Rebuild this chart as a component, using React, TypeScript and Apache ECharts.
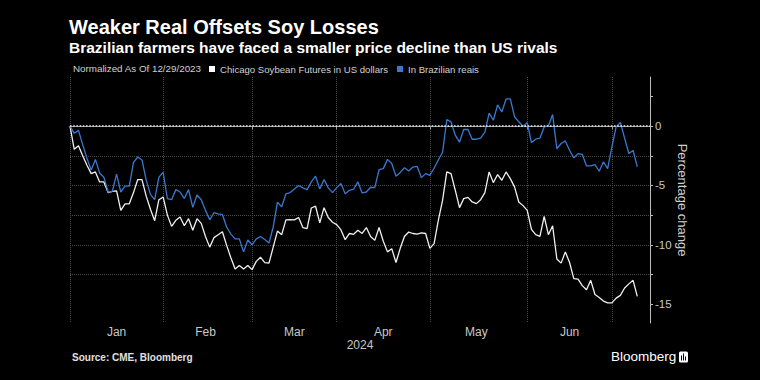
import React, { useEffect, useRef } from "react";
import * as echarts from "echarts";

// ---- data ----
const closedDays: string[] = ["2024-01-01", "2024-01-15", "2024-03-29"];
const monthLabels: string[] = ["Jan", "Feb", "Mar", "Apr", "May", "Jun"];
const yTickValues: number[] = [-15, -12.5, -10, -7.5, -5, -2.5, 0, 2.5];
const yLabelValues: number[] = [-15, -10, -5, 0];

const usdSeries: number[] = [
  0, -1.95, -1.65, -2.5, -3.3, -4.0, -3.86, -4.7, -4.7, -5.6,
  -5.5, -5.46, -7.1, -6.55, -6.55, -5.6, -4.5, -4.5, -5.9, -7.0,
  -7.97, -6.2, -5.97, -7.5, -8.45, -7.94, -7.66, -8.4, -7.8, -8.78,
  -7.8, -8.2, -9.3, -10.2, -9.4, -9.15, -8.9, -10.05, -11.1, -12.05,
  -11.75, -12.05, -11.75, -12.1, -11.4, -11.05, -11.5, -11.55, -10.2, -8.85,
  -9.15, -7.9, -7.88, -7.9, -7.7, -8.55, -8.64, -6.9, -6.75, -8.16,
  -6.87, -7.7, -8.1, -8.3, -8.75, -9.57, -9.05, -9.12, -8.78, -9.05,
  -8.55, -9.3, -9.63, -8.55, -9.7, -10.6, -10.33, -11.5, -10.3, -9.3,
  -8.93, -9.05, -9.1, -9.0, -9.05, -10.3, -9.9, -7.94, -6.25, -3.86,
  -4.0, -5.4, -6.87, -6.11, -6.0, -6.39, -6.53, -6.2, -5.6, -3.86,
  -4.76, -4.08, -4.56, -3.86, -4.42, -5.12, -6.39, -6.7, -7.1, -8.7,
  -9.15, -9.3, -7.6, -9.15, -8.4, -11.2, -11.55, -10.6, -11.5, -12.85,
  -12.9, -13.45, -13.8, -13.0, -14.2, -14.45, -14.75, -14.9, -14.9, -14.5,
  -14.27, -13.65, -13.3, -13.0, -14.35,
];

const brlSeries: number[] = [
  0, -0.6, -0.35, -1.55, -2.7, -3.7, -2.8, -3.95, -4.3, -5.55,
  -5.5, -4.05, -5.55, -5.05, -5.05, -3.05, -2.6, -2.85, -4.55, -5.75,
  -6.2, -4.3, -3.9, -6.1, -6.2, -5.35, -5.55, -6.1, -5.35, -6.85,
  -5.8, -6.2, -7.1, -7.9, -7.3, -7.4, -7.45, -8.5, -9.1, -9.5,
  -9.5, -10.6, -9.6, -10.0, -9.5, -9.3, -9.55, -9.85, -8.5, -6.4,
  -6.8, -5.7, -5.6, -5.3, -5.0, -5.2, -5.35, -4.7, -4.22, -5.3,
  -4.5, -5.2, -5.6, -5.18, -4.84, -5.69, -5.41, -5.3, -4.7, -5.63,
  -5.55, -5.15, -5.18, -3.66, -3.58, -2.8, -3.15, -4.22, -3.9, -3.5,
  -3.77, -3.45, -3.38, -4.34, -4.0, -4.14, -3.55, -2.85, -2.2, 0.56,
  0.37, -0.76, -1.35, -0.28, -0.28, -1.1, -1.1, -1.0, -0.5, 1.1,
  0.5, 1.8, 1.2, 2.3, 2.3, 0.8, 0.37, 0.0, 0.3, -1.38,
  -1.1, -1.0, -0.06, 0.03, 0.98, -1.9, -1.46, -1.24, -2.03, -2.67,
  -2.31, -2.37, -3.35, -3.35, -3.24, -3.8, -3.0, -3.58, -1.75, -0.06,
  0.31, -1.0, -2.3, -2.05, -3.43,
];

function buildTradingDays(): string[] {
  const out: string[] = [];
  const d = new Date(Date.UTC(2023, 11, 29));
  const end = Date.UTC(2024, 6, 12);
  while (d.getTime() <= end) {
    const wd = d.getUTCDay();
    const s = d.toISOString().slice(0, 10);
    if (wd !== 0 && wd !== 6 && closedDays.indexOf(s) < 0) out.push(s);
    d.setUTCDate(d.getUTCDate() + 1);
  }
  return out;
}

const dates = buildTradingDays();

const boundaries: number[] = [0];
for (let i = 1; i < dates.length; i++) {
  const m = dates[i].slice(5, 7);
  const pm = dates[i - 1].slice(5, 7);
  if (m !== pm && pm !== "12") boundaries.push(i);
}
const gridSet = new Set<number>(boundaries);
const labelSet = new Set<number>();
for (let k = 0; k < monthLabels.length && k + 1 < boundaries.length; k++) {
  labelSet.add(Math.floor((boundaries[k] + boundaries[k + 1]) / 2));
}

const FONT = '"Liberation Sans", Arial, sans-serif';

export default function App() {
  const ref = useRef<HTMLDivElement>(null);

  useEffect(() => {
    if (!ref.current) return;
    const chart = echarts.init(ref.current, null, { renderer: "svg" });
    const option: any = {
      animation: false,
      backgroundColor: "#000",
      textStyle: { fontFamily: FONT },
      title: [
        {
          text: "Weaker Real Offsets Soy Losses",
          left: 69,
          top: 17,
          padding: 0,
          textStyle: { color: "#fff", fontSize: 20, fontWeight: "bold", fontFamily: FONT },
        },
        {
          text: "Brazilian farmers have faced a smaller price decline than US rivals",
          left: 69,
          top: 39,
          padding: 0,
          textStyle: { color: "#fff", fontSize: 15.5, fontWeight: "bold", fontFamily: FONT },
        },
        {
          text: "Normalized As Of 12/29/2023",
          left: 73,
          top: 63,
          padding: 0,
          textStyle: { color: "#d0d0d0", fontSize: 9.8, fontWeight: "normal", fontFamily: FONT },
        },
        {
          text: "Source: CME, Bloomberg",
          left: 72,
          top: 352,
          padding: 0,
          textStyle: { color: "#e0e0e0", fontSize: 10, fontWeight: "bold", fontFamily: FONT },
        },
        {
          text: "Bloomberg",
          left: 611,
          top: 349,
          padding: 0,
          textStyle: { color: "#fff", fontSize: 13.5, fontWeight: "normal", fontFamily: FONT },
        },
      ],
      graphic: [
        {
          type: "group",
          left: 679,
          top: 351,
          children: [
            { type: "rect", shape: { x: 0, y: 0, width: 9, height: 11, r: 1.5 }, style: { fill: "#fff" } },
            { type: "line", shape: { x1: 2.5, y1: 4, x2: 2.5, y2: 9 }, style: { stroke: "#000", lineWidth: 1 } },
            { type: "line", shape: { x1: 4.5, y1: 2, x2: 4.5, y2: 9 }, style: { stroke: "#000", lineWidth: 1 } },
            { type: "line", shape: { x1: 6.5, y1: 5, x2: 6.5, y2: 9 }, style: { stroke: "#000", lineWidth: 1 } },
          ],
        },
      ],
      legend: {
        left: 209,
        top: 64,
        padding: 0,
        itemWidth: 6,
        itemHeight: 6,
        itemGap: 9,
        icon: "rect",
        textStyle: { color: "#d0d0d0", fontSize: 9.6, fontFamily: FONT },
        data: ["Chicago Soybean Futures in US dollars", "In Brazilian reais"],
      },
      grid: { left: 70, right: 110, top: 77, bottom: 57 },
      xAxis: {
        type: "category",
        data: dates,
        boundaryGap: false,
        axisLine: { show: true, lineStyle: { color: "#9a9a9a", width: 1 } },
        axisTick: {
          show: true,
          interval: (i: number) => gridSet.has(i),
          length: 3,
          lineStyle: { color: "#9a9a9a" },
        },
        splitLine: {
          show: true,
          interval: (i: number) => gridSet.has(i),
          lineStyle: { type: "dotted", color: "#4a4a4a", width: 1 },
        },
        axisLabel: {
          interval: (i: number) => labelSet.has(i),
          formatter: (v: string) => monthLabels[Number(v.slice(5, 7)) - 1] || "",
          color: "#c8c8c8",
          fontSize: 12,
          margin: 3,
          fontFamily: FONT,
        },
        name: "2024",
        nameLocation: "middle",
        nameGap: 16,
        nameMoveOverlap: false,
        nameTextStyle: { color: "#c8c8c8", fontSize: 12, fontFamily: FONT },
      },
      yAxis: {
        type: "value",
        position: "right",
        min: -16.6,
        max: 4.15,
        axisLine: { show: true, lineStyle: { color: "#bdbdbd", width: 1 } },
        axisTick: {
          show: true,
          customValues: yTickValues,
          length: 3,
          lineStyle: { color: "#bdbdbd" },
        },
        axisLabel: {
          customValues: yLabelValues,
          color: "#c8c8c8",
          fontSize: 11.5,
          margin: 5,
          fontFamily: FONT,
        },
        splitLine: {
          show: true,
          showMinLine: false,
          showMaxLine: false,
          lineStyle: { type: "dotted", color: "#4a4a4a", width: 1 },
        },
        name: "Percentage change",
        nameLocation: "middle",
        nameRotate: -90,
        nameGap: 26,
        nameMoveOverlap: false,
        nameTextStyle: { color: "#d0d0d0", fontSize: 13, fontFamily: FONT },
      },
      series: [
        {
          name: "Chicago Soybean Futures in US dollars",
          type: "line",
          data: usdSeries,
          symbol: "none",
          showSymbol: false,
          itemStyle: { color: "#ffffff" },
          lineStyle: { color: "#f0f0f0", width: 1.3 },
          z: 3,
          markLine: {
            silent: true,
            symbol: ["none", "none"],
            label: { show: false },
            lineStyle: { type: "dotted", color: "#e8e8e8", width: 1.6 },
            data: [{ yAxis: 0 }],
          },
        },
        {
          name: "In Brazilian reais",
          type: "line",
          data: brlSeries,
          symbol: "none",
          showSymbol: false,
          itemStyle: { color: "#3a78d0" },
          lineStyle: { color: "#3a78d0", width: 1.3 },
          z: 4,
        },
      ],
    };
    chart.setOption(option);
    return () => chart.dispose();
  }, []);

  return (
    <div
      ref={ref}
      style={{ position: "fixed", left: 0, top: 0, width: 760, height: 380, background: "#000" }}
    />
  );
}
